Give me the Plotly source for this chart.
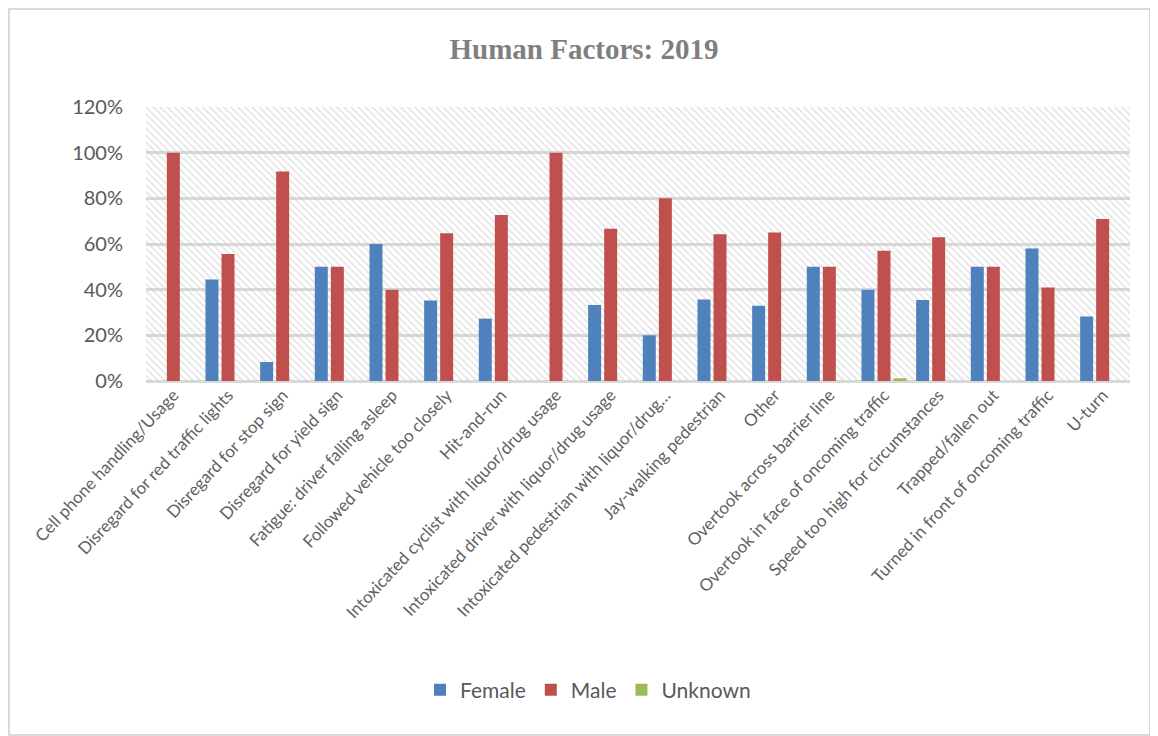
import plotly.graph_objects as go

categories = [
    "Cell phone handling/Usage",
    "Disregard for red traffic lights",
    "Disregard for stop sign",
    "Disregard for yield sign",
    "Fatigue: driver falling asleep",
    "Followed vehicle too closely",
    "Hit-and-run",
    "Intoxicated cyclist with liquor/drug usage",
    "Intoxicated driver with liquor/drug usage",
    "Intoxicated pedestrian with liquor/drug…",
    "Jay-walking pedestrian",
    "Other",
    "Overtook across barrier line",
    "Overtook in face of oncoming traffic",
    "Speed too high for circumstances",
    "Trapped/fallen out",
    "Turned in front of oncoming traffic",
    "U-turn",
]
female = [0, 44.4, 8.3, 50, 60, 35.3, 27.3, 0, 33.3, 20, 35.7, 33, 50, 40, 35.5, 50, 58, 28.3]
male = [100, 55.6, 91.7, 50, 40, 64.7, 72.7, 100, 66.7, 80, 64.3, 65, 50, 57, 63, 50, 41, 71]
unknown = [0, 0, 0, 0, 0, 0, 0, 0, 0, 0, 0, 0, 0, 1.2, 0, 0, 0, 0]
y_ticks = [0, 20, 40, 60, 80, 100, 120]

# page body has an 8px margin: figure coordinates = screen coordinates - 8
OFF = 8
W, H = 1150, 728
L, T = 146 - OFF, 107 - OFF
R = W - (1130 - OFF)
B = H - (381 - OFF)
pw, ph = W - L - R, H - T - B


def sx(px):  # screen x -> paper x
    return (px - OFF - L) / pw


def sy(py):  # screen y -> paper y
    return 1 - (py - OFF - T) / ph


fig = go.Figure()

# hatched plot background (decoration) on base axis
fig.add_trace(go.Bar(
    x=[0.5], y=[1.2], width=[1], xaxis="x", yaxis="y",
    marker=dict(color="rgba(0,0,0,0)", line=dict(width=0),
                pattern=dict(shape="\\", size=5, solidity=0.35,
                             fgcolor="#cccccc", bgcolor="rgba(0,0,0,0)")),
    showlegend=False, hoverinfo="skip",
))

series = [("Female", female, "#4F81BD"), ("Male", male, "#C0504D"), ("Unknown", unknown, "#9BBB59")]
for name, vals, col in series:
    fig.add_trace(go.Bar(
        x=categories, y=[v / 100 for v in vals], name=name,
        xaxis="x2", yaxis="y",
        marker=dict(color=col, line=dict(width=0)),
    ))

fig.update_layout(
    width=W, height=H,
    margin=dict(l=L, r=R, t=T, b=B, autoexpand=False),
    paper_bgcolor="white", plot_bgcolor="white",
    barmode="group", bargap=0.12, bargroupgap=0.19,
    title=dict(text="<b>Human Factors: 2019</b>", x=(584 - OFF) / W, xref="container", xanchor="center",
               y=1 - (49 - OFF) / H, yref="container", yanchor="middle",
               font=dict(family="Liberation Serif", size=29, color="#7f7f7f")),
    xaxis=dict(range=[0, 1], visible=False, showgrid=False, fixedrange=True),
    xaxis2=dict(overlaying="x", anchor="y", side="bottom", type="category",
                showgrid=False, showline=False, ticks="", tickangle=-47,
                tickfont=dict(family="Lato", size=17, color="#5f5f5f")),
    yaxis=dict(range=[0, 1.2], tickvals=[v / 100 for v in y_ticks],
               ticktext=[f"{v}%" for v in y_ticks],
               showgrid=True, gridcolor="#d9d9d9", gridwidth=2.5,
               zeroline=True, zerolinecolor="#d9d9d9", zerolinewidth=2.5,
               showline=False, ticks="", ticklabelstandoff=22,
               tickfont=dict(family="Lato", size=20, color="#595959")),
    legend=dict(orientation="h", x=sx(588), xanchor="center",
                y=sy(690), yanchor="middle",
                font=dict(family="Lato", size=21, color="#595959"),
                itemwidth=30, traceorder="normal"),
    font=dict(family="Lato", color="#595959"),
    shapes=[dict(type="rect", xref="paper", yref="paper",
                 x0=sx(9), x1=sx(1150),
                 y0=sy(735), y1=sy(9),
                 line=dict(color="#d9d9d9", width=2), layer="below")],
)

fig.write_html("out.html")
